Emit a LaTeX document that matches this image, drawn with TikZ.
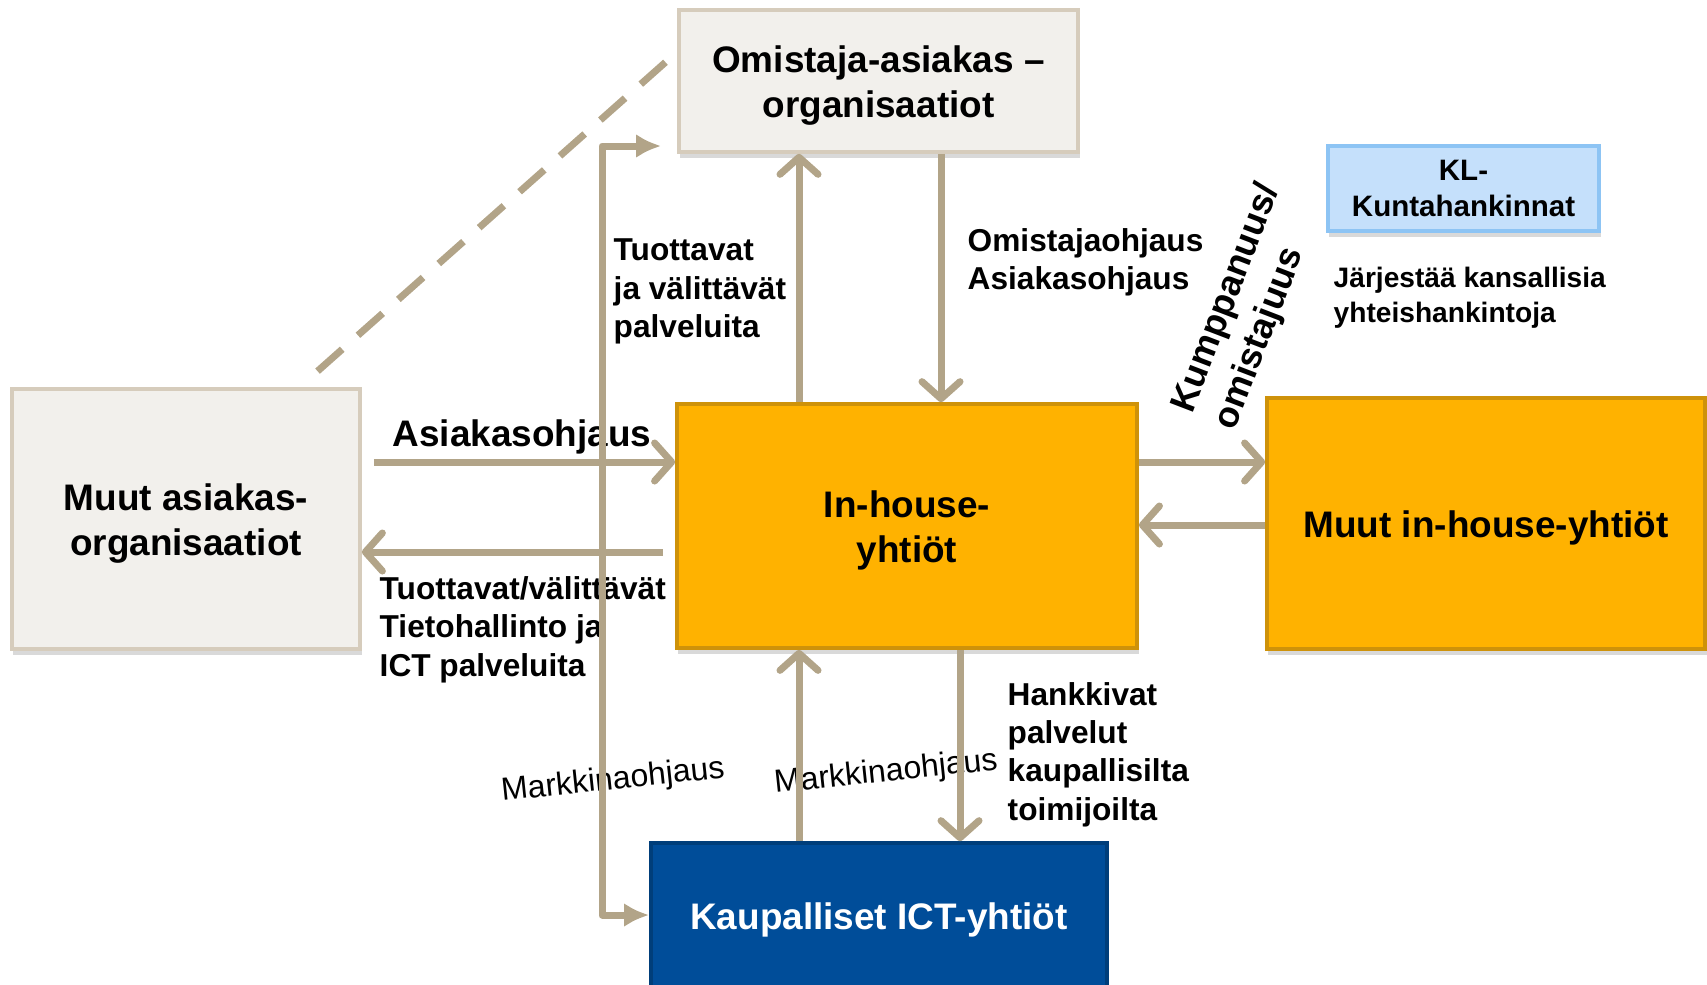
\documentclass[tikz,border=0pt]{standalone}
\usepackage{fontspec}
\setmainfont{Liberation Sans}
\usepackage{tikz}
\usetikzlibrary{calc,arrows.meta,shadows}
\definecolor{boxgray}{RGB}{242,240,236}
\definecolor{boxline}{RGB}{214,204,188}
\definecolor{ihorange}{RGB}{255,178,0}
\definecolor{ihline}{RGB}{206,146,10}
\definecolor{ictblue}{RGB}{0,77,153}
\definecolor{klblue}{RGB}{197,224,251}
\definecolor{klline}{RGB}{141,196,244}
\definecolor{tan}{RGB}{178,164,136}

\begin{document}
\begin{tikzpicture}[x=0.01cm, y=-0.01cm,
    big/.style={font=\bfseries\fontsize{10.5pt}{12.7pt}\selectfont},
    mid/.style={font=\bfseries\fontsize{9pt}{10.9pt}\selectfont},
    lbl/.style={inner sep=0pt, align=left},
    shade/.style={drop shadow={shadow xshift=0.4pt, shadow yshift=-1.6pt, opacity=0.3}},
    orgbox/.style={big, shade, fill=boxgray, draw=boxline, line width=1pt, align=center, text height=22.9pt},
    ihbox/.style={big, shade, fill=ihorange, draw=ihline, line width=1pt, align=center, text height=22.9pt},
    flow/.style={draw=tan, line width=0.07cm, -{Straight Barb[length=0.17cm, width=0.38cm, round]}},
    rail/.style={draw=tan, line width=0.07cm, line join=round, {Latex[length=0.25cm, width=0.24cm]}-{Latex[length=0.25cm, width=0.24cm]}},
    dashline/.style={draw=tan, line width=0.07cm, dash pattern=on 0.33cm off 0.21cm}]
    \useasboundingbox (0,0) rectangle (1707,984);
    \coordinate (hi) at (0,462);
    \coordinate (lo) at (0,552);
    \coordinate (back) at (0,525);
    \coordinate (upx) at (799,0);
    \coordinate (dnx) at (941,0);
    \coordinate (buyx) at (960,0);
    \coordinate (railtop) at (602,146);
    \coordinate (railbot) at (602,915);
    \node[orgbox, minimum width=3.99cm, minimum height=1.42cm] (own) at (878.5,81) {Omistaja-asiakas –\\organisaatiot};
    \node[orgbox, minimum width=3.48cm, minimum height=2.60cm] (muut) at (186,519) {Muut asiakas-\\organisaatiot};
    \node[ihbox, minimum width=4.60cm, minimum height=2.44cm] (inh) at (907,526) {In-house-\\yhtiöt};
    \node[ihbox, text height=10pt, minimum width=4.38cm, minimum height=2.51cm] (mih) at (1486,523.5) {Muut in-house-yhtiöt};
    \node[shade, fill=klblue, draw=klline, line width=1pt, align=center, minimum width=2.71cm, minimum height=0.85cm,
        font=\bfseries\fontsize{8.4pt}{10.2pt}\selectfont] (kl) at (1463.5,188.5) {KL-\\Kuntahankinnat};
    \node[big, fill=ictblue, draw=ictblue!80!black, line width=1pt, text=white, text height=10pt, minimum width=4.56cm, minimum height=1.46cm] (kau) at (879,916) {Kaupalliset ICT-yhtiöt};
    \node[big, lbl, anchor=west] (asiak) at (392,436.5) {Asiakasohjaus};
    \node[mid, lbl, anchor=west] (prod) at (379,629.5) {Tuottavat/välittävät\\Tietohallinto ja\\ICT palveluita};
    \node[mid, lbl, anchor=west] (serv) at (613,291.5) {Tuottavat\\ja välittävät\\palveluita};
    \node[mid, lbl, anchor=west] (ohj) at (967,262.5) {Omistajaohjaus\\Asiakasohjaus};
    \node[mid, lbl, anchor=west] (buy) at (1007,754.5) {Hankkivat\\palvelut\\kaupallisilta\\toimijoilta};
    \node[lbl, anchor=west, font=\bfseries\fontsize{8pt}{10pt}\selectfont] (joint) at (1333,297.5) {Järjestää kansallisia\\yhteishankintoja};
    \node[lbl, rotate=69, font=\bfseries\fontsize{10.3pt}{12.9pt}\selectfont] (kump) at (1248,307) {Kumppanuus/\\omistajuus};
    \node[inner sep=0pt, rotate=6, font=\fontsize{9.1pt}{11pt}\selectfont] (mark1) at (613,781) {Markkinaohjaus};
    \node[inner sep=0pt, rotate=6, font=\fontsize{9.1pt}{11pt}\selectfont] (mark2) at (886,773) {Markkinaohjaus};
    \draw[dashline] ([yshift=0.16cm]$(muut.north west)!0.874!(muut.north east)$) -- ($(own.north west)!0.3!(own.south west)$);
    \draw[flow, shorten <=0.12cm] (muut.east |- hi) -- (inh.west |- hi);
    \draw[flow, shorten <=0.12cm] (inh.west |- lo) -- (muut.east |- lo);
    \draw[flow] (inh.east |- hi) -- (mih.west |- hi);
    \draw[flow] (mih.west |- back) -- (inh.east |- back);
    \draw[flow] (inh.north -| upx) -- (own.south -| upx);
    \draw[flow] (own.south -| dnx) -- (inh.north -| dnx);
    \draw[flow] (kau.north -| upx) -- (inh.south -| upx);
    \draw[flow] (inh.south -| buyx) -- (kau.north -| buyx);
    \draw[rail] ([xshift=-0.16cm]own.west |- railtop) -- (railtop) -- (railbot) -- (kau.west |- railbot);
\end{tikzpicture}
\end{document}
